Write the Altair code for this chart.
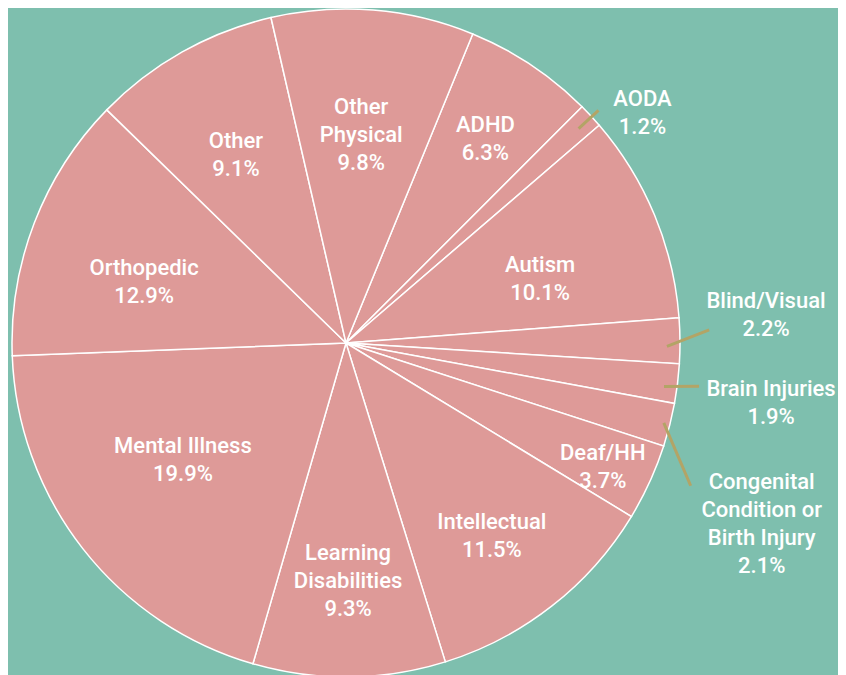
import math
import altair as alt
import pandas as pd

# ---- data ----
categories = ["ADHD", "AODA", "Autism", "Blind/Visual", "Brain Injuries",
              "Congenital Condition or Birth Injury", "Deaf/HH", "Intellectual",
              "Learning Disabilities", "Mental Illness", "Orthopedic", "Other",
              "Other Physical"]
shares = [6.3, 1.2, 10.1, 2.2, 1.9, 2.1, 3.7, 11.5, 9.3, 19.9, 12.9, 9.1, 9.8]
label_names = ["ADHD", "AODA", "Autism", "Blind/Visual", "Brain Injuries",
               "Congenital\nCondition or\nBirth Injury", "Deaf/HH", "Intellectual",
               "Learning\nDisabilities", "Mental Illness", "Orthopedic", "Other",
               "Other\nPhysical"]

# ---- layout (annotation placement, not data) ----
START_DEG = 22.3          # where the first slice begins (clockwise from 12 o'clock)
R = 334                   # pie radius in px
CX, CY = 338, 335         # pie centre inside the plot
# position of each label's first line: angle shift from slice middle (in % units) and radius fraction
label_shift = [-0.28, 0.94, 0.19, -1.49, -0.24, 1.18, -0.42, -0.31, 0.0, 1.61, -0.17, 0.22, -0.27]
label_radius = [0.774, 1.150, 0.626, 1.264, 1.280, 1.312, 0.836, 0.692, 0.629, 0.577, 0.645, 0.689, 0.708]
leader_for = ["AODA", "Blind/Visual", "Brain Injuries", "Congenital Condition or Birth Injury"]
leader_start = [(0.2, 0.947), (1.0, 0.961), (0.8, 0.961), (-0.1, 0.981)]   # (deg shift, radius frac)
leader_end = [(0.2, 1.028), (-1.7, 1.088), (0.0, 1.065), (8.3, 1.117)]

off = math.radians(START_DEG)
theta_scale = alt.Scale(domain=[0, 100], range=[off, off + 2 * math.pi])

starts, ends, acc = [], [], 0.0
for v in shares:
    starts.append(acc)
    acc += v
    ends.append(acc)

df = pd.DataFrame({
    "category": categories,
    "share": shares,
    "start": starts,
    "end": ends,
    "label": [f"{n}\n{v}%" for n, v in zip(label_names, shares)],
    "label_pos": [s + v / 2 + d for s, v, d in zip(starts, shares, label_shift)],
    "label_r": label_radius,
})


def polar(pct, deg_shift, rfrac):
    a = off + pct / 100 * 2 * math.pi + math.radians(deg_shift)
    return CX + rfrac * R * math.sin(a), CY - rfrac * R * math.cos(a)


rows = []
for name, (s0, r0), (s1, r1) in zip(leader_for, leader_start, leader_end):
    i = categories.index(name)
    mid = starts[i] + shares[i] / 2
    x0, y0 = polar(mid, s0, r0)
    x1, y1 = polar(mid, s1, r1)
    rows.append({"category": name, "x": x0, "y": y0, "x2": x1, "y2": y1})
leaders = pd.DataFrame(rows)

FONT = "Roboto"

pie = alt.Chart(df).mark_arc(
    fill="#de9a98", stroke="white", strokeWidth=1.5
).encode(
    theta=alt.Theta("start:Q", scale=theta_scale),
    theta2="end:Q",
    radius=alt.value(R),
    x=alt.value(CX),
    y=alt.value(CY),
)

lines = alt.Chart(leaders).mark_rule(color="#b3a466", strokeWidth=3).encode(
    x=alt.X("x:Q", scale=None),
    y=alt.Y("y:Q", scale=None),
    x2="x2:Q",
    y2="y2:Q",
)

labels = alt.Chart(df).mark_text(
    font=FONT, fontSize=22, fontWeight=500, color="white", lineBreak="\n", lineHeight=28,
    align="center", baseline="middle"
).encode(
    theta=alt.Theta("label_pos:Q", scale=theta_scale, stack=False),
    radius=alt.Radius("label_r:Q", scale=alt.Scale(type="linear", domain=[0, 1], range=[0, R])),
    x=alt.value(CX),
    y=alt.value(CY),
    text="label:N",
)

chart = alt.layer(pie, lines, labels).properties(
    width=830, height=667, padding=0,
    autosize=alt.AutoSizeParams(type="none"),
    background="#7ebfae",
).configure_view(strokeWidth=0)

chart.save("out.html", embed_options={"renderer": "svg", "actions": False})
